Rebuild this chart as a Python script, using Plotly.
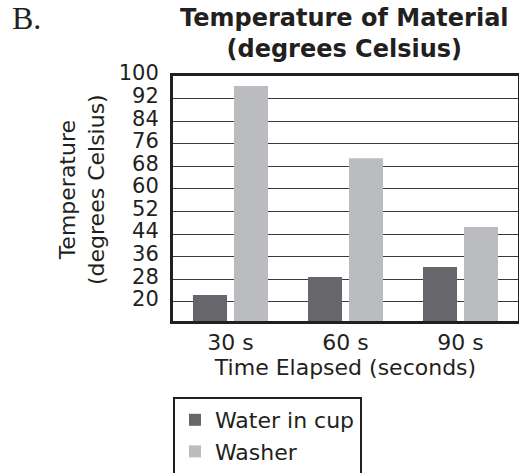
import plotly.graph_objects as go

categories = ["30 s", "60 s", "90 s"]
water_in_cup = [22.4, 28.8, 32.3]
washer = [96.5, 70.9, 46.5]
y_ticks = [20, 28, 36, 44, 52, 60, 68, 76, 84, 92, 100]

FONT = "DejaVu Sans"
TXT = "#231f20"

fig = go.Figure()
fig.add_trace(go.Bar(x=categories, y=water_in_cup, name="Water in cup",
                     marker=dict(color="#67676b", line=dict(width=0))))
fig.add_trace(go.Bar(x=categories, y=washer, name="Washer",
                     marker=dict(color="#bbbcc0", line=dict(width=0))))

fig.update_layout(
    width=519, height=473,
    margin=dict(l=173, r=1, t=76, b=152, autoexpand=False),
    paper_bgcolor="white", plot_bgcolor="white",
    barmode="group", bargap=0.287, bargroupgap=0.17,
    font=dict(family=FONT, color=TXT, size=22),
    showlegend=True,
    legend=dict(x=173 / 519, xanchor="left", xref="container",
                y=1 - 397 / 473, yanchor="top", yref="container",
                bordercolor=TXT, borderwidth=2, font=dict(size=22, family=FONT, color=TXT),
                traceorder="normal", itemwidth=30, tracegroupgap=0),
)

fig.update_xaxes(showgrid=False, showline=True, mirror=True, linecolor=TXT, linewidth=3,
                 ticks="", automargin=False, tickfont=dict(size=22, family=FONT, color=TXT),
                 title=dict(text="Time Elapsed (seconds)", font=dict(size=22, family=FONT, color=TXT), standoff=4))
fig.update_yaxes(range=[13.2, 100], tickvals=y_ticks, ticktext=[str(v) for v in y_ticks],
                 showgrid=True, gridcolor="#3a3a3a", gridwidth=1, automargin=False,
                 showline=True, mirror=True, linecolor=TXT, linewidth=3,
                 ticks="", ticklabelstandoff=7, ticklabelshift=-3,
                 tickfont=dict(size=21, family=FONT, color=TXT), zeroline=False)

fig.add_annotation(text="Temperature<br>(degrees Celsius)", xref="paper", yref="paper",
                   x=(82 - 173) / 345, y=(321 - 190) / 245, xanchor="center", yanchor="middle",
                   textangle=-90, showarrow=False,
                   font=dict(size=22, family=FONT, color=TXT), align="center")

fig.add_annotation(text="<b>Temperature of Material<br>(degrees Celsius)</b>",
                   xref="paper", yref="paper", x=(344 - 173) / 345, xanchor="center",
                   y=1.0, yshift=74, yanchor="top",
                   showarrow=False, font=dict(size=24, family=FONT, color=TXT), align="center")

fig.add_annotation(text="B.", xref="paper", yref="paper", x=(10 - 173) / 345, xanchor="left",
                   y=1.0, yshift=78, yanchor="top", showarrow=False,
                   font=dict(size=32, family="Liberation Serif", color=TXT))

fig.write_html("out.html", config={"displayModeBar": False},
               post_script="document.body.style.margin='0';document.body.style.padding='0';")
